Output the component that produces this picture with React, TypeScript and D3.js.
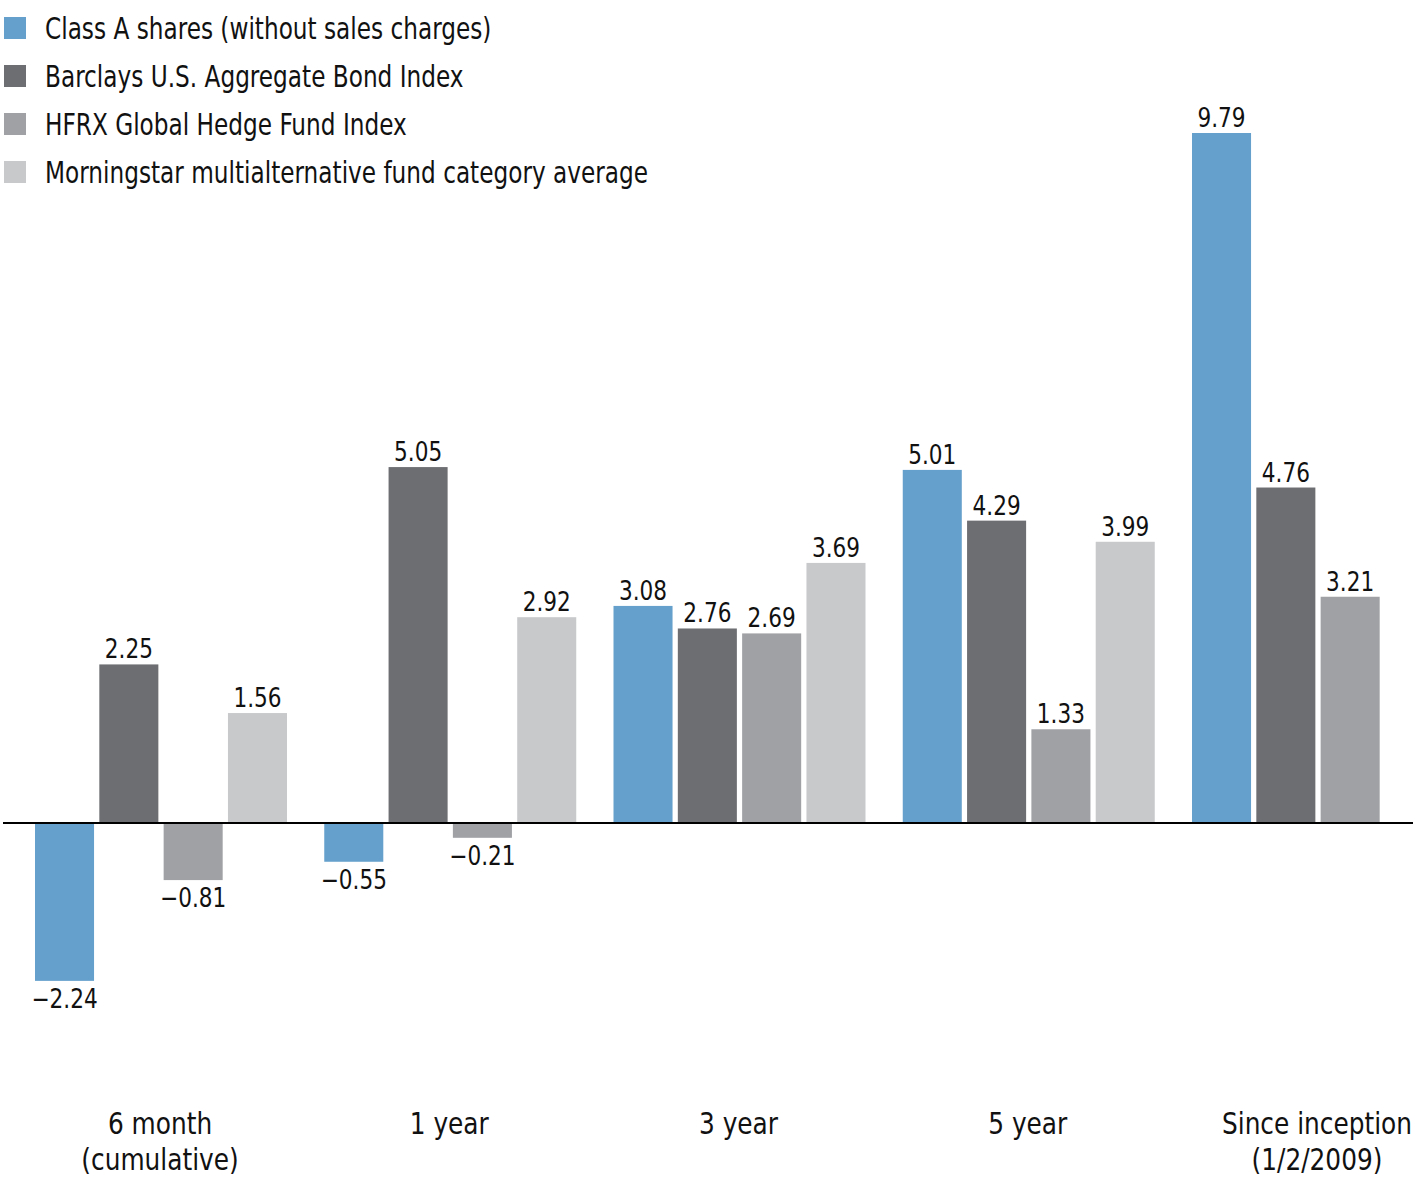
import React from "react";
import * as d3 from "d3";

const categories = ["6 month|(cumulative)", "1 year", "3 year", "5 year", "Since inception|(1/2/2009)"];
const seriesNames = [
  "Class A shares (without sales charges)",
  "Barclays U.S. Aggregate Bond Index",
  "HFRX Global Hedge Fund Index",
  "Morningstar multialternative fund category average",
];
const colors = ["#65a0cc", "#6d6e72", "#a0a1a5", "#c8c9cb"];
const classA = [-2.24, -0.55, 3.08, 5.01, 9.79];
const barclays = [2.25, 5.05, 2.76, 4.29, 4.76];
const hfrx = [-0.81, -0.21, 2.69, 1.33, 3.21];
const morningstar: (number | null)[] = [1.56, 2.92, 3.69, 3.99, null];
const seriesValues = [classA, barclays, hfrx, morningstar];

const W = 1415;
const H = 1178;
const FONT = "'DejaVu Sans Condensed', 'DejaVu Sans', sans-serif";

function CText(props: { x: number; y: number; sx: number; size: number; anchor?: string; children: React.ReactNode }) {
  const { x, y, sx, size, anchor, children } = props;
  return (
    <text
      transform={`translate(${x},${y}) scale(${sx},1)`}
      textAnchor={anchor || "start"}
      fontSize={size}
      fill="#111"
    >
      {children}
    </text>
  );
}

export default function App() {
  const y = d3.scaleLinear().domain([0, 9.79]).range([823, 133]);
  const x0 = d3.scaleBand<string>().domain(categories).range([35, 35 + 5 * 289.25]).padding(0);
  const x1 = d3.scaleBand<number>().domain([0, 1, 2, 3]).range([0, 252]).paddingInner(0.082).paddingOuter(0);
  const fmt = (v: number) => (v < 0 ? "\u2212" + Math.abs(v).toFixed(2) : v.toFixed(2));

  return (
    <svg width={W} height={H} style={{ display: "block", position: "absolute", left: 0, top: 0 }} fontFamily={FONT}>
      <rect width={W} height={H} fill="#fff" />
      {seriesNames.map((n, i) => (
        <g key={n} transform={`translate(0, ${17 + i * 48})`}>
          <rect x={4} y={0} width={22} height={22} fill={colors[i]} />
          <CText x={45} y={22} sx={0.86} size={30}>{n}</CText>
        </g>
      ))}
      {categories.map((c, ci) => (
        <g key={c} transform={`translate(${x0(c)}, 0)`}>
          {seriesValues.map((vals, si) => {
            const v = vals[ci];
            if (v == null) return null;
            const bx = x1(si)!;
            const bw = x1.bandwidth();
            const top = Math.min(y(v), y(0));
            const h = Math.abs(y(v) - y(0));
            return (
              <g key={si}>
                <rect x={bx} y={top} width={bw} height={h} fill={colors[si]} />
                <CText
                  x={bx + bw / 2}
                  y={v >= 0 ? y(v) - 6 : y(v) + 27}
                  sx={0.89}
                  anchor="middle"
                  size={27}
                >
                  {fmt(v)}
                </CText>
              </g>
            );
          })}
          {c.split("|").map((line, li) => (
            <CText key={li} x={125} y={1134 + li * 36} sx={0.92} anchor="middle" size={30}>
              {line}
            </CText>
          ))}
        </g>
      ))}
      <line x1={3} x2={1413} y1={y(0)} y2={y(0)} stroke="#000" strokeWidth={2} />
    </svg>
  );
}
